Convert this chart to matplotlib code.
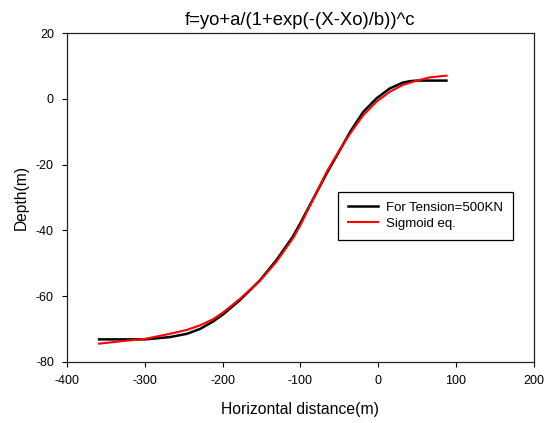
import matplotlib
matplotlib.use("Agg")
import matplotlib.pyplot as plt

plt.rcParams['font.family'] = ['Liberation Sans', 'DejaVu Sans']
plt.rcParams['axes.unicode_minus'] = False

# Data
x_tension = [-359, -330, -300, -268, -246, -229, -212, -199, -178, -152, -131, -110, -100,
             -88, -66, -49, -36, -19, -2, 15, 32, 42, 50, 65, 88]
y_tension = [-73.2, -73.2, -73.2, -72.5, -71.5, -70.0, -67.7, -65.5, -61.3, -55.2, -49.1, -42.0, -37.8,
             -32.4, -22.6, -15.5, -10.0, -3.9, 0.2, 3.2, 5.0, 5.45, 5.6, 5.6, 5.6]

x_sigmoid = [-359, -332, -299, -268, -246, -229, -212, -199, -178, -152, -131, -109, -100,
             -88, -66, -49, -36, -19, -2, 15, 32, 50, 67, 88]
y_sigmoid = [-74.5, -73.8, -73.0, -71.5, -70.3, -68.9, -67.0, -64.9, -60.9, -55.3, -49.6, -42.2, -38.4,
             -32.6, -22.1, -15.3, -10.5, -4.9, -0.8, 2.2, 4.3, 5.6, 6.6, 7.1]

x_ticks = [-400, -300, -200, -100, 0, 100, 200]
y_ticks = [-80, -60, -40, -20, 0, 20]

title = "f=yo+a/(1+exp(-(X-Xo)/b))^c"
labels = ["For Tension=500KN", "Sigmoid eq."]

fig = plt.figure(figsize=(5.44, 4.23), dpi=100)
ax = fig.add_axes([0.1237, 0.1449, 0.857, 0.7764])

ax.plot(x_tension, y_tension, color='black', lw=1.8, label=labels[0])
ax.plot(x_sigmoid, y_sigmoid, color='#ff0000', lw=1.5, label=labels[1])

ax.set_xlim(-400, 200)
ax.set_ylim(-80, 20)
ax.set_xticks(x_ticks)
ax.set_yticks(y_ticks)
ax.tick_params(direction='out', length=3.6, width=0.8, pad=6, labelsize=9,
               top=False, right=False, colors='black')
for s in ax.spines.values():
    s.set_linewidth(0.9)
    s.set_color('#222222')

ax.set_title(title, fontsize=13.3, pad=6)
ax.set_xlabel("Horizontal distance(m)", fontsize=11.3, labelpad=11)
ax.set_ylabel("Depth(m)", fontsize=11.2, labelpad=5)

leg = ax.legend(loc='upper left', bbox_to_anchor=(0.58, 0.518), borderaxespad=0,
                fancybox=False, edgecolor='black', framealpha=1, fontsize=9.5,
                handlelength=2.3, handletextpad=0.6, borderpad=0.75, labelspacing=0.3)
leg.get_frame().set_linewidth(0.9)

fig.savefig("out.png", dpi=100)
